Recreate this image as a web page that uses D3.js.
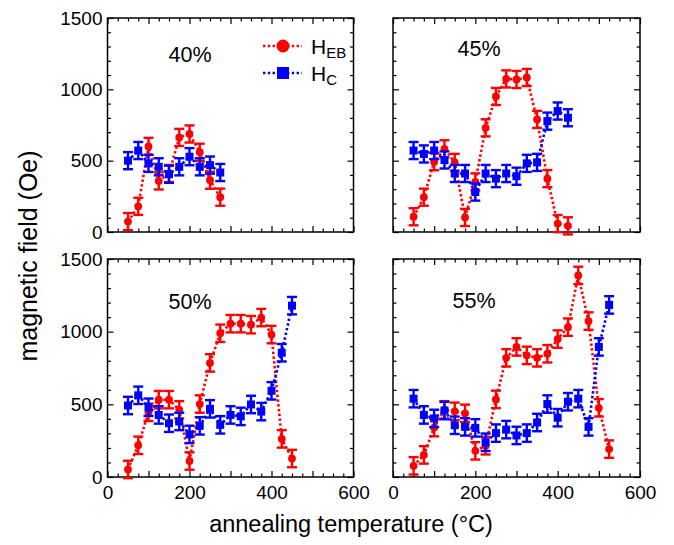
<!DOCTYPE html>
<html>
<head>
<meta charset="utf-8">
<script src="https://cdn.jsdelivr.net/npm/d3@7"></script>
<style>
  body { margin: 0; background: #fff; }
  svg { font-family: "Liberation Sans", Arial, sans-serif; }
</style>
</head>
<body>
<svg id="chart" width="674" height="545"></svg>
<script>
// annealing temperatures (degC), shared by every panel
var temperature = [50, 75, 100, 125, 150, 175, 200, 225, 250, 275, 300, 325, 350, 375, 400, 425, 450, 475, 500, 525];

// exchange bias field H_EB and coercivity H_C (Oe)
var heb40 = [73, 180, 600, 358, 410, 663, 687, 559, 363, 244];
var hc40  = [500, 571, 481, 457, 405, 457, 528, 457, 469, 417];
var heb45 = [107, 244, 493, 583, 488, 102, 351, 730, 950, 1073, 1069, 1083, 789, 374, 59, 43];
var hc45  = [571, 547, 571, 505, 410, 410, 280, 410, 374, 410, 391, 481, 488, 777, 848, 801];
var heb50 = [52, 218, 445, 532, 532, 462, 110, 502, 785, 989, 1055, 1055, 1048, 1097, 980, 262, 127];
var hc50  = [492, 562, 480, 427, 370, 382, 293, 352, 469, 359, 427, 417, 499, 450, 593, 855, 1179];
var heb55 = [77, 152, 340, 462, 452, 438, 180, 215, 534, 820, 895, 837, 820, 848, 949, 1031, 1387, 1073, 476, 192];
var hc55  = [539, 427, 403, 457, 356, 345, 338, 239, 302, 326, 286, 302, 375, 502, 408, 518, 539, 345, 895, 1184];
var errorBar = 60;

var panelLabels = ["40%", "45%", "50%", "55%"];
var xTickLabels = [0, 200, 400, 600];
var yTickLabels = [0, 500, 1000, 1500];

var red = "#ff0000", blue = "#0000ff";

var svg = d3.select("#chart");

// panel boxes; lx/ly are page coordinates of the panel label
var panels = [
  { heb: heb40, hc: hc40, x0: 107.5, y0: 18,  w: 246, h: 214, label: panelLabels[0], lx: 190, ly: 62,  showX: false, showY: true },
  { heb: heb45, hc: hc45, x0: 393,   y0: 18,  w: 247, h: 214, label: panelLabels[1], lx: 479, ly: 56,  showX: false, showY: false },
  { heb: heb50, hc: hc50, x0: 107.5, y0: 259, w: 246, h: 218, label: panelLabels[2], lx: 190, ly: 309, showX: true,  showY: true },
  { heb: heb55, hc: hc55, x0: 393,   y0: 259, w: 247, h: 218, label: panelLabels[3], lx: 474, ly: 308, showX: true,  showY: false }
];

function drawPanel(p) {
  var g = svg.append("g").attr("transform", "translate(" + p.x0 + "," + p.y0 + ")");
  var x = d3.scaleLinear().domain([0, 600]).range([0, p.w]);
  var y = d3.scaleLinear().domain([0, 1500]).range([p.h, 0]);

  var xt = d3.range(0, 601, 25), yt = d3.range(0, 1501, 100);
  function xfmt(d) { return (p.showX && xTickLabels.indexOf(d) >= 0) ? d : ""; }
  function yfmt(d) { return (p.showY && yTickLabels.indexOf(d) >= 0) ? d : ""; }

  var axes = [
    g.append("g").attr("transform", "translate(0," + p.h + ")")
      .call(d3.axisBottom(x).tickValues(xt).tickSizeInner(-3.5).tickSizeOuter(0).tickPadding(9).tickFormat(xfmt)),
    g.append("g")
      .call(d3.axisTop(x).tickValues(xt).tickSizeInner(-3.5).tickSizeOuter(0).tickFormat("")),
    g.append("g")
      .call(d3.axisLeft(y).tickValues(yt).tickSizeInner(-3.5).tickSizeOuter(0).tickPadding(5).tickFormat(yfmt)),
    g.append("g").attr("transform", "translate(" + p.w + ",0)")
      .call(d3.axisRight(y).tickValues(yt).tickSizeInner(-3.5).tickSizeOuter(0).tickFormat(""))
  ];
  axes.forEach(function(a) {
    a.select(".domain").remove();
    a.selectAll(".tick line").attr("stroke", "#000").attr("stroke-width", 1.2);
    a.selectAll("text").attr("font-size", 19).attr("fill", "#000")
      .attr("font-family", "Liberation Sans, Arial, sans-serif");
  });
  // longer ticks at 100 degC and 500 Oe
  axes[0].selectAll(".tick line").filter(function(d) { return d % 100 === 0; }).attr("y2", -6);
  axes[1].selectAll(".tick line").filter(function(d) { return d % 100 === 0; }).attr("y2", 6);
  axes[2].selectAll(".tick line").filter(function(d) { return d % 500 === 0; }).attr("x2", 6);
  axes[3].selectAll(".tick line").filter(function(d) { return d % 500 === 0; }).attr("x2", -6);

  g.append("rect").attr("width", p.w).attr("height", p.h)
    .attr("fill", "none").attr("stroke", "#000").attr("stroke-width", 1.5);

  g.append("text").attr("x", p.lx - p.x0).attr("y", p.ly - p.y0).attr("text-anchor", "middle")
    .attr("font-size", 21.5).text(p.label);

  [{ v: p.heb, c: red, m: "circle" }, { v: p.hc, c: blue, m: "square" }].forEach(function(s) {
    var pts = s.v.map(function(v, i) { return { t: temperature[i], v: v }; });
    var line = d3.line().x(function(d) { return x(d.t); }).y(function(d) { return y(d.v); });
    var sg = g.append("g");
    sg.append("path").datum(pts).attr("d", line).attr("fill", "none")
      .attr("stroke", s.c).attr("stroke-width", 2.6).attr("stroke-dasharray", "2.4,2.4");

    var eb = sg.selectAll(".eb").data(pts).enter().append("g")
      .attr("stroke", s.c).attr("stroke-width", 2.4);
    eb.append("line").attr("x1", function(d) { return x(d.t); }).attr("x2", function(d) { return x(d.t); })
      .attr("y1", function(d) { return y(d.v - errorBar); }).attr("y2", function(d) { return y(d.v + errorBar); });
    eb.append("line").attr("x1", function(d) { return x(d.t) - 5; }).attr("x2", function(d) { return x(d.t) + 5; })
      .attr("y1", function(d) { return y(d.v + errorBar); }).attr("y2", function(d) { return y(d.v + errorBar); });
    eb.append("line").attr("x1", function(d) { return x(d.t) - 5; }).attr("x2", function(d) { return x(d.t) + 5; })
      .attr("y1", function(d) { return y(d.v - errorBar); }).attr("y2", function(d) { return y(d.v - errorBar); });

    if (s.m === "circle") {
      sg.selectAll("circle").data(pts).enter().append("circle")
        .attr("cx", function(d) { return x(d.t); }).attr("cy", function(d) { return y(d.v); })
        .attr("r", 3.9).attr("fill", s.c);
    } else {
      sg.selectAll("rect").data(pts).enter().append("rect")
        .attr("x", function(d) { return x(d.t) - 4; }).attr("y", function(d) { return y(d.v) - 4; })
        .attr("width", 8).attr("height", 8).attr("fill", s.c);
    }
  });
}

panels.forEach(drawPanel);

// legend in the first panel
var leg = svg.append("g");
[{ c: red, m: "circle", y: 46, sub: "EB" }, { c: blue, m: "square", y: 73, sub: "C" }].forEach(function(e) {
  leg.append("line").attr("x1", 263).attr("x2", 302).attr("y1", e.y).attr("y2", e.y)
    .attr("stroke", e.c).attr("stroke-width", 2.6).attr("stroke-dasharray", "2.4,2.4");
  if (e.m === "circle") {
    leg.append("circle").attr("cx", 283).attr("cy", e.y).attr("r", 6.5).attr("fill", e.c);
  } else {
    leg.append("rect").attr("x", 277).attr("y", e.y - 6).attr("width", 12).attr("height", 12).attr("fill", e.c);
  }
  var t = leg.append("text").attr("x", 311).attr("y", e.y + 7.5).attr("font-size", 21);
  t.append("tspan").text("H");
  t.append("tspan").attr("font-size", 15).attr("dy", 4).text(e.sub);
});

// axis titles
svg.append("text").attr("x", 351).attr("y", 532).attr("text-anchor", "middle")
  .attr("font-size", 23.5).text("annealing temperature (°C)");
svg.append("text").attr("transform", "translate(37,256) rotate(-90)").attr("text-anchor", "middle")
  .attr("font-size", 25).text("magnetic field (Oe)");
</script>
</body>
</html>
